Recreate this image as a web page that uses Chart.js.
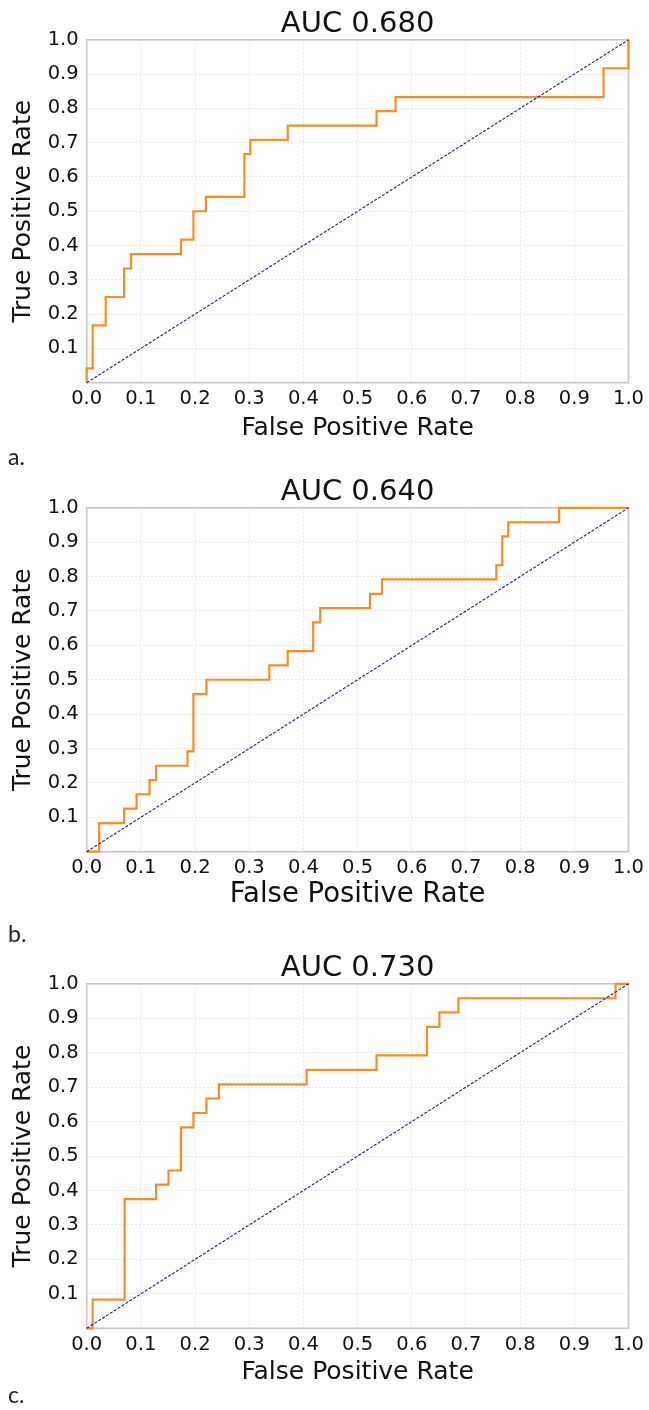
<!DOCTYPE html>
<html><head><meta charset="utf-8">
<script src="https://cdn.jsdelivr.net/npm/chart.js@4.4.1/dist/chart.umd.min.js"></script>
<style>
html,body{margin:0;padding:0;background:#fff;}
body{width:649px;height:1410px;position:relative;overflow:hidden;}
.panel{position:absolute;left:0;width:649px;height:460px;}
.tag{position:absolute;left:8px;font-family:Lato,"Open Sans",sans-serif;font-size:23px;color:#222;line-height:1;}
</style></head><body>
<div class="panel" style="top:0px"><canvas id="ca" width="649" height="460"></canvas></div>
<div class="panel" style="top:468px"><canvas id="cb" width="649" height="460"></canvas></div>
<div class="panel" style="top:944px"><canvas id="cc" width="649" height="460"></canvas></div>
<div class="tag" style="top:445px">a.</div>
<div class="tag" style="top:922px">b.</div>
<div class="tag" style="top:1383px">c.</div>
<script>
// ---- data (ROC corner points, step-before) ----
const titles = ['AUC 0.680', 'AUC 0.640', 'AUC 0.730'];
const fprA = [0, 0, 0.011, 0.035, 0.069, 0.082, 0.174, 0.197, 0.220, 0.291, 0.302, 0.371, 0.535, 0.570, 0.954, 1];
const tprA = [0, 0.042, 0.167, 0.250, 0.333, 0.375, 0.417, 0.500, 0.542, 0.667, 0.708, 0.750, 0.792, 0.833, 0.917, 1];
const fprB = [0, 0.023, 0.069, 0.092, 0.116, 0.128, 0.186, 0.197, 0.221, 0.337, 0.371, 0.418, 0.431, 0.523, 0.545, 0.756, 0.767, 0.778, 0.872, 1];
const tprB = [0, 0.083, 0.125, 0.167, 0.208, 0.250, 0.292, 0.458, 0.500, 0.542, 0.583, 0.667, 0.708, 0.750, 0.792, 0.833, 0.917, 0.958, 1, 1];
const fprC = [0, 0.011, 0.070, 0.128, 0.151, 0.174, 0.197, 0.221, 0.244, 0.406, 0.535, 0.628, 0.651, 0.686, 0.976, 1];
const tprC = [0, 0.083, 0.375, 0.417, 0.458, 0.583, 0.625, 0.667, 0.708, 0.750, 0.792, 0.875, 0.917, 0.958, 1, 1];
const diagX = [0, 1];
const diagY = [0, 1];
const xTickLabels = ['0.0','0.1','0.2','0.3','0.4','0.5','0.6','0.7','0.8','0.9','1.0'];
const yTickLabels = ['','0.1','0.2','0.3','0.4','0.5','0.6','0.7','0.8','0.9','1.0'];
const xTitle = 'False Positive Rate';
const yTitle = 'True Positive Rate';

// ---- layout (not data) ----
const panels = [
  {id:'ca', fpr:fprA, tpr:tprA, title:titles[0], plotLeft:86.7, plotBottom:382.7, xTitleSize:25},
  {id:'cb', fpr:fprB, tpr:tprB, title:titles[1], plotLeft:86.7, plotBottom:383.7, xTitleSize:27.5},
  {id:'cc', fpr:fprC, tpr:tprC, title:titles[2], plotLeft:86.7, plotBottom:384.3, xTitleSize:25}
];
const FONT = '"DejaVu Sans", sans-serif';
const CANVAS_H = 460;

const framePlugin = {
  id: 'frame',
  beforeDatasetsDraw(chart) {
    const {ctx, chartArea: a} = chart;
    ctx.save();
    ctx.strokeStyle = '#c6c6c6';
    ctx.lineWidth = 1.6;
    ctx.strokeRect(a.left, a.top, a.right - a.left, a.bottom - a.top);
    ctx.restore();
  }
};

const toPts = (xs, ys) => xs.map((x, i) => ({x, y: ys[i]}));

panels.forEach(p => {
  new Chart(document.getElementById(p.id), {
    type: 'line',
    data: {
      datasets: [
        {
          data: toPts(diagX, diagY),
          borderColor: '#1c1c8c',
          borderWidth: 1.1,
          borderDash: [3, 1.6],
          pointRadius: 0,
          order: 0,
          clip: 4
        },
        {
          data: toPts(p.fpr, p.tpr),
          borderColor: '#ff8c1a',
          borderWidth: 2.2,
          stepped: 'before',
          pointRadius: 0,
          order: 1,
          clip: 4
        }
      ]
    },
    options: {
      responsive: false,
      animation: false,
      events: [],
      layout: {padding: {left: 0, right: 649 - 632.3, top: 0, bottom: 0}},
      plugins: {
        legend: {display: false},
        tooltip: {enabled: false},
        title: {
          display: true,
          text: p.title,
          fullSize: false,
          color: '#111',
          font: {family: FONT, size: 29, weight: 'normal', lineHeight: 1.2},
          padding: {top: 7, bottom: -2}
        }
      },
      scales: {
        x: {
          type: 'linear', min: 0, max: 1,
          afterFit: s => { s.height = CANVAS_H - p.plotBottom; },
          afterBuildTicks: s => { s.ticks = xTickLabels.map((_, i) => ({value: i / 10})); },
          ticks: {
            callback: (v, i) => xTickLabels[i],
            color: '#111', font: {family: FONT, size: 19.5}, padding: 5, maxRotation: 0, autoSkip: false
          },
          grid: {color: '#e6e6e6', lineWidth: 1, drawTicks: false},
          border: {display: false, dash: [2, 2]},
          title: {display: true, text: xTitle, color: '#111',
                  font: {family: FONT, size: p.xTitleSize, lineHeight: 1.2},
                  padding: {top: 0, bottom: 16.5}}
        },
        y: {
          type: 'linear', min: 0, max: 1,
          afterFit: s => { s.width = p.plotLeft; },
          afterBuildTicks: s => { s.ticks = yTickLabels.map((_, i) => ({value: i / 10})); },
          ticks: {
            callback: (v, i) => yTickLabels[i],
            color: '#111', font: {family: FONT, size: 19.5}, padding: 8, autoSkip: false
          },
          grid: {color: '#e6e6e6', lineWidth: 1, drawTicks: false},
          border: {display: false, dash: [2, 2]},
          title: {display: true, text: yTitle, color: '#111',
                  font: {family: FONT, size: 25, lineHeight: 1.2},
                  padding: {top: 8, bottom: 0}}
        }
      }
    },
    plugins: [framePlugin]
  });
});
</script>
</body></html>
